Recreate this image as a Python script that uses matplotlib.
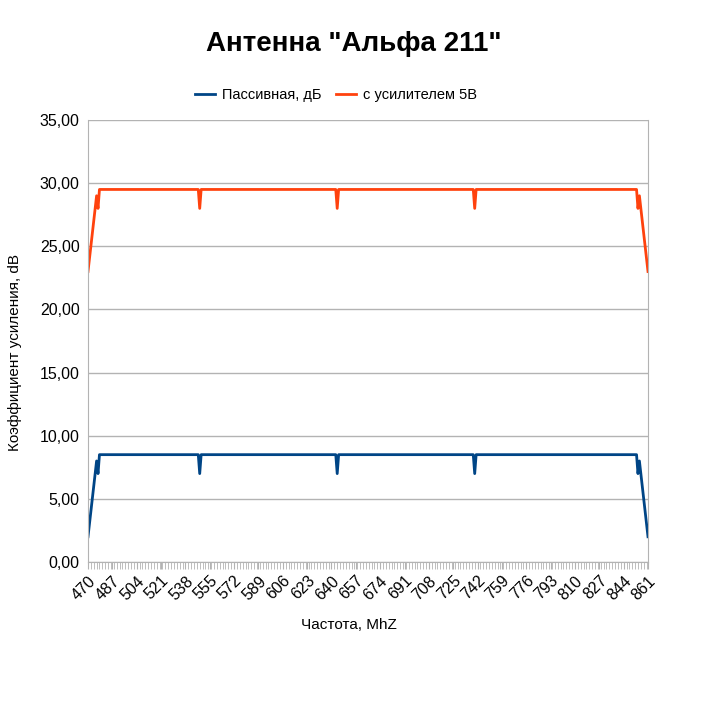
import numpy as np
import matplotlib.pyplot as plt
from matplotlib.ticker import FuncFormatter, MultipleLocator

plt.rcParams['font.family'] = ['Liberation Sans', 'DejaVu Sans']

# breakpoints of the measured curves (MHz)
freq = [470, 476, 477, 478, 547, 548, 549, 643, 644, 645, 739, 740, 741, 853, 854, 855, 861]
passive = [2.0, 8.0, 7.0, 8.5, 8.5, 7.0, 8.5, 8.5, 7.0, 8.5, 8.5, 7.0, 8.5, 8.5, 7.0, 8.0, 2.0]
amplified = [23.0, 29.0, 28.0, 29.5, 29.5, 28.0, 29.5, 29.5, 28.0, 29.5, 29.5, 28.0, 29.5, 29.5, 28.0, 29.0, 23.0]
tick_labels = list(range(470, 862, 17))

fig = plt.figure(figsize=(7.07, 7.07), dpi=100)
ax = fig.add_axes([88/707, 1 - 562/707, 560/707, 442/707])

ax.plot(freq, passive, color='#004586', lw=2.0, label='Пассивная, дБ')
ax.plot(freq, amplified, color='#ff420e', lw=2.0, label='с усилителем 5В')

ax.set_xlim(470, 861)
ax.set_ylim(0, 35)
ax.yaxis.set_major_locator(MultipleLocator(5))
ax.yaxis.set_major_formatter(FuncFormatter(lambda v, p: f'{v:.2f}'.replace('.', ',')))
ax.set_xticks(tick_labels)
ax.set_xticklabels([str(t) for t in tick_labels], rotation=45, ha='right',
                   rotation_mode='anchor', fontsize=11.5)
ax.xaxis.set_minor_locator(MultipleLocator(2))
ax.tick_params(axis='x', which='both', length=5, color='#b3b3b3', pad=3)
ax.tick_params(axis='y', length=0, labelsize=11.5, pad=6)
ax.grid(axis='y', color='#b3b3b3', lw=1)
ax.set_axisbelow(True)
for s in ax.spines.values():
    s.set_color('#b3b3b3')
ax.spines['top'].set_visible(False)

ax.set_xlabel('Частота, MhZ', fontsize=11)
ax.set_ylabel('Коэффициент усиления, dB', fontsize=11)
ax.xaxis.set_label_coords(0.466, -0.127)
ax.yaxis.set_label_coords(-0.118, 0.475)

fig.text(0.5, 1 - 44/707, 'Антенна "Альфа 211"', ha='center', va='center',
         fontsize=20, fontweight='bold')
fig.legend(loc='center', bbox_to_anchor=(0.475, 1 - 95/707), ncol=2, frameon=False,
           fontsize=10.5, handlelength=1.4, columnspacing=1.0, handletextpad=0.45)

fig.savefig('out.png', dpi=100)
